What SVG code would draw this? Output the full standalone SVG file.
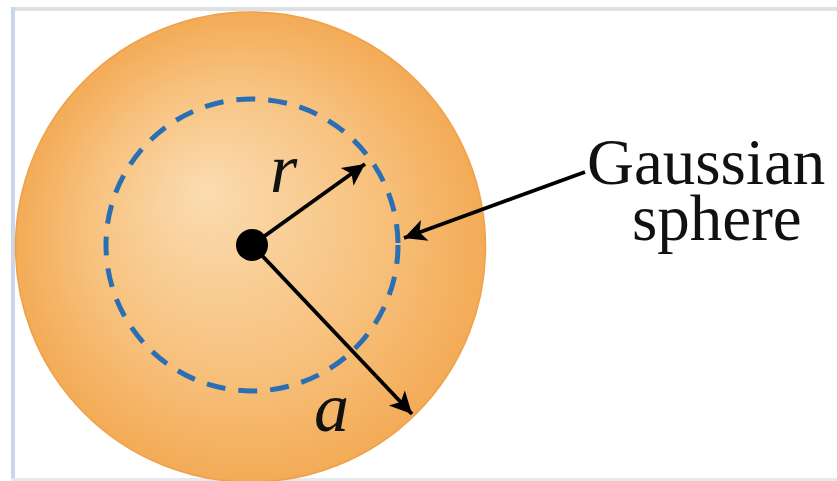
<svg xmlns="http://www.w3.org/2000/svg" width="837" height="481" viewBox="0 0 837 481">
  <defs>
    <radialGradient id="sphereGrad" cx="0.5" cy="0.5" r="0.5" fx="0.4" fy="0.38">
      <stop offset="0" stop-color="#fbdcb1"/>
      <stop offset="0.6" stop-color="#f7c27f"/>
      <stop offset="1" stop-color="#f3ab56"/>
    </radialGradient>
    <marker id="arrow" viewBox="0 0 10 10" refX="10" refY="5" markerWidth="7.5" markerHeight="5.8" markerUnits="strokeWidth" orient="auto">
      <path d="M0,0 L10,5 L0,10 L2.5,5 Z" fill="#000"/>
    </marker>
  </defs>
  <style>
    .conn { stroke:#000; stroke-width:3.8; fill:none; marker-end:url(#arrow); }
    .lbl { font-family:"Liberation Serif","Times New Roman",serif; fill:#111; }
    .it { font-style:italic; font-size:70px; }
    .up { font-size:65px; }
  </style>
  <rect x="0" y="0" width="837" height="481" fill="#ffffff"/>
  <g id="frame">
    <rect x="11" y="7" width="826" height="4" fill="#dfe0e4"/>
    <rect x="11" y="7" width="4" height="472" fill="#c9d6eb"/>
    <rect x="11" y="478" width="826" height="3" fill="#e4e9f2"/>
  </g>
  <g id="sphere">
    <circle cx="250.5" cy="247" r="235" fill="url(#sphereGrad)" stroke="#efa149" stroke-width="1.5"/>
  </g>
  <g id="gaussian-sphere">
    <circle cx="252" cy="245" r="146" fill="none" stroke="#2a6fb3" stroke-width="5" stroke-dasharray="19 13"/>
  </g>
  <g id="connectors">
    <line class="conn" x1="252" y1="245" x2="365" y2="164"/>
    <line class="conn" x1="252" y1="245" x2="412" y2="414"/>
    <line class="conn" x1="585" y1="172" x2="404" y2="238"/>
  </g>
  <g id="center">
    <circle cx="252" cy="245" r="16" fill="#000"/>
  </g>
  <g id="label-r"><text class="lbl it" x="270" y="192">r</text></g>
  <g id="label-a"><text class="lbl it" x="314" y="431">a</text></g>
  <g id="label-gaussian">
    <text class="lbl up" x="587" y="184">Gaussian</text>
    <text class="lbl up" x="632" y="240">sphere</text>
  </g>
</svg>
